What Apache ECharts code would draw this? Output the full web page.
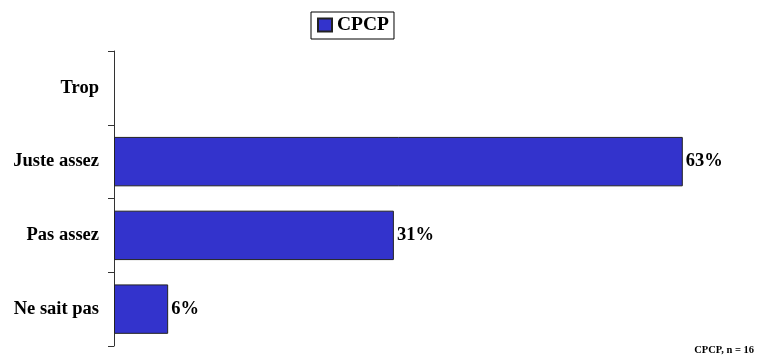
<!DOCTYPE html>
<html><head><meta charset="utf-8">
<script src="https://cdn.jsdelivr.net/npm/echarts@6/dist/echarts.min.js"></script>
<style>html,body{margin:0;padding:0;background:#fff}#c{width:758px;height:360px}</style>
</head><body><div id="c"></div>
<script>
const categories = ['Trop', 'Juste assez', 'Pas assez', 'Ne sait pas'];
const seriesName = 'CPCP';
const values = [0, 63, 31, 6];
const footnote = 'CPCP, n = 16';
const font = '"Liberation Serif", "Times New Roman", serif';

const chart = echarts.init(document.getElementById('c'), null, {renderer: 'canvas'});
chart.setOption({
  animation: false,
  backgroundColor: '#fff',
  legend: {
    data: [seriesName],
    top: 12, left: 311,
    borderColor: '#000', borderWidth: 1, padding: [3, 5, 4, 6],
    itemWidth: 14, itemHeight: 13, itemGap: 4,
    icon: 'rect',
    textStyle: {fontFamily: font, fontWeight: 'bold', fontSize: 19.5, color: '#000'}
  },
  grid: {left: 114, right: 12, top: 51, bottom: 14, containLabel: false},
  xAxis: {type: 'value', min: 0, max: 70, show: false},
  yAxis: {
    type: 'category', data: categories, inverse: true,
    axisLine: {show: true, lineStyle: {color: '#333', width: 1}},
    axisTick: {show: true, length: 6, lineStyle: {color: '#333'}},
    axisLabel: {fontFamily: font, fontWeight: 'bold', fontSize: 18.5, color: '#000', margin: 15}
  },
  series: [{
    name: seriesName, type: 'bar',
    data: values.map(v => v === 0 ? '-' : v),
    barCategoryGap: '33%',
    itemStyle: {color: '#3333CC', borderColor: '#222', borderWidth: 1},
    label: {
      show: true, position: 'right', distance: 3,
      formatter: p => p.value + '%',
      fontFamily: font, fontWeight: 'bold', fontSize: 18.5, color: '#000'
    }
  }],
  graphic: [{
    type: 'text', right: 4, bottom: 4,
    style: {text: footnote, fontFamily: font, fontWeight: 'bold', fontSize: 10.5, fill: '#000'}
  }]
});
</script></body></html>
